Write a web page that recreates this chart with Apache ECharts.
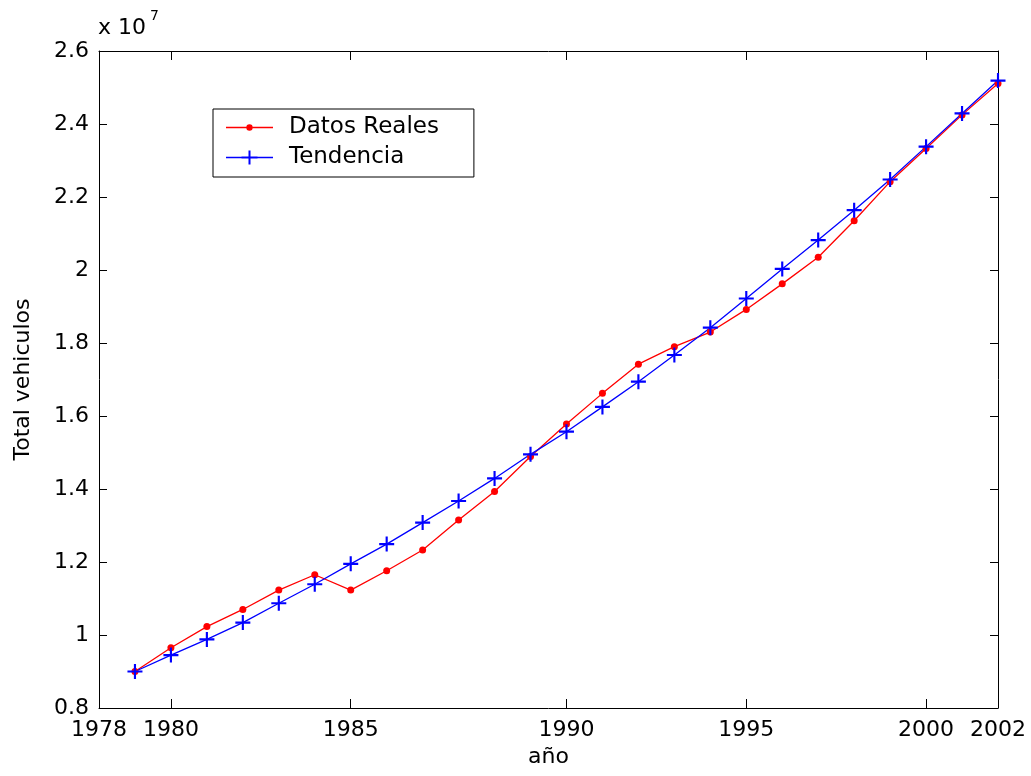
<!DOCTYPE html>
<html>
<head>
<meta charset="utf-8">
<script src="https://cdn.jsdelivr.net/npm/echarts@6/dist/echarts.min.js"></script>
<style>
html,body{margin:0;padding:0;background:#fff;}
#chart{width:1031px;height:776px;}
</style>
</head>
<body>
<div id="chart"></div>
<script>
// x positions of the 25 observations (axis runs from 0 to 25)
const puntos = [1,2,3,4,5,6,7,8,9,10,11,12,13,14,15,16,17,18,19,20,21,22,23,24,25];
// tick positions and their labels on the x axis
const tickPos = [0,2,7,13,18,23,25];
const tickLabels = ['1978','1980','1985','1990','1995','2000','2002'];
// values in units of 10^7 vehicles
const datosReales = [0.900,0.965,1.023,1.070,1.123,1.165,1.123,1.176,1.233,1.315,1.393,1.489,1.578,1.662,1.742,1.790,1.830,1.892,1.962,2.035,2.135,2.242,2.333,2.425,2.511];
const tendencia   = [0.900,0.945,0.988,1.034,1.087,1.139,1.195,1.249,1.308,1.367,1.429,1.495,1.557,1.625,1.694,1.767,1.842,1.922,2.003,2.082,2.164,2.248,2.338,2.429,2.519];
const serieNombres = ['Datos Reales','Tendencia'];

const FONT = 'DejaVu Sans';
const chart = echarts.init(document.getElementById('chart'), null, {renderer:'canvas'});

const labelMap = {};
tickPos.forEach((p,i)=>{labelMap[p]=tickLabels[i];});

// marker shapes
const crossPath = 'path://M0,6H14V8H0Z M6,0H8V14H6Z';
// legend samples: line + marker
const iconReales = 'path://M0,6.35H20.3V7.65H0Z M26.7,6.35H47V7.65H26.7Z M20.3,7 A3.2,3.2 0 1 1 26.7,7 A3.2,3.2 0 1 1 20.3,7Z';
const iconTend = 'path://M0,6.35H47V7.65H0Z M15.5,6H31.5V8H15.5Z M22.5,0H24.5V14H22.5Z';

const xBase = {
  type:'value', min:0, max:25,
  axisLine:{show:true, onZero:false, lineStyle:{color:'#000', width:1}},
  splitLine:{show:false},
  axisTick:{show:true, inside:true, length:9, customValues:tickPos, lineStyle:{color:'#000'}},
  axisLabel:{show:true, customValues:tickPos, formatter:v=>labelMap[Math.round(v)]||'',
             fontFamily:FONT, fontSize:22, color:'#000', margin:11, showMinLabel:true, showMaxLabel:true}
};
const yBase = {
  type:'value', min:0.8, max:2.6, interval:0.2,
  axisLine:{show:true, onZero:false, lineStyle:{color:'#000', width:1}},
  splitLine:{show:false},
  axisTick:{show:true, inside:true, length:8, lineStyle:{color:'#000'}},
  axisLabel:{show:true, formatter:v=>String(+v.toFixed(1)), fontFamily:FONT, fontSize:22, color:'#000', margin:10}
};

chart.setOption({
  animation:false,
  backgroundColor:'#fff',
  grid:{left:99, right:33, top:51, bottom:68, containLabel:false},
  legend:{
    orient:'vertical', left:213, top:109,
    data:[{name:serieNombres[0], icon:iconReales}, {name:serieNombres[1], icon:iconTend}],
    itemWidth:47, itemHeight:14, itemGap:7,
    borderColor:'#000', borderWidth:1, backgroundColor:'#fff',
    padding:[7,35,8,13],
    textStyle:{fontFamily:FONT, fontSize:23, color:'#000', lineHeight:23, padding:[0,0,0,11]}
  },
  xAxis:[
    Object.assign({}, xBase, {position:'bottom', name:'año', nameLocation:'middle', nameGap:38,
      nameMoveOverlap:false,
      nameTextStyle:{fontFamily:FONT, fontSize:22, color:'#000'}}),
    Object.assign({}, xBase, {position:'top', axisLabel:{show:false}})
  ],
  yAxis:[
    Object.assign({}, yBase, {position:'left', name:'Total vehiculos', nameLocation:'middle', nameGap:65,
      nameMoveOverlap:false,
      nameTextStyle:{fontFamily:FONT, fontSize:22, color:'#000'}}),
    Object.assign({}, yBase, {position:'right', axisLabel:{show:false}})
  ],
  graphic:[
    {type:'text', left:98, top:17, style:{text:'x 10', font:'22px "DejaVu Sans"', fill:'#000'}},
    {type:'text', left:150, top:9, style:{text:'7', font:'14px "DejaVu Sans"', fill:'#000'}}
  ],
  series:[
    {
      name:serieNombres[0], type:'line',
      data:puntos.map((x,i)=>[x, datosReales[i]]),
      symbol:'circle', symbolSize:7, showAllSymbol:true,
      lineStyle:{color:'#ff0000', width:1.3},
      itemStyle:{color:'#ff0000'}
    },
    {
      name:serieNombres[1], type:'line',
      data:puntos.map((x,i)=>[x, tendencia[i]]),
      symbol:crossPath, symbolSize:15, showAllSymbol:true,
      lineStyle:{color:'#0000ff', width:1.3},
      itemStyle:{color:'#0000ff'}
    }
  ]
});
</script>
</body>
</html>
